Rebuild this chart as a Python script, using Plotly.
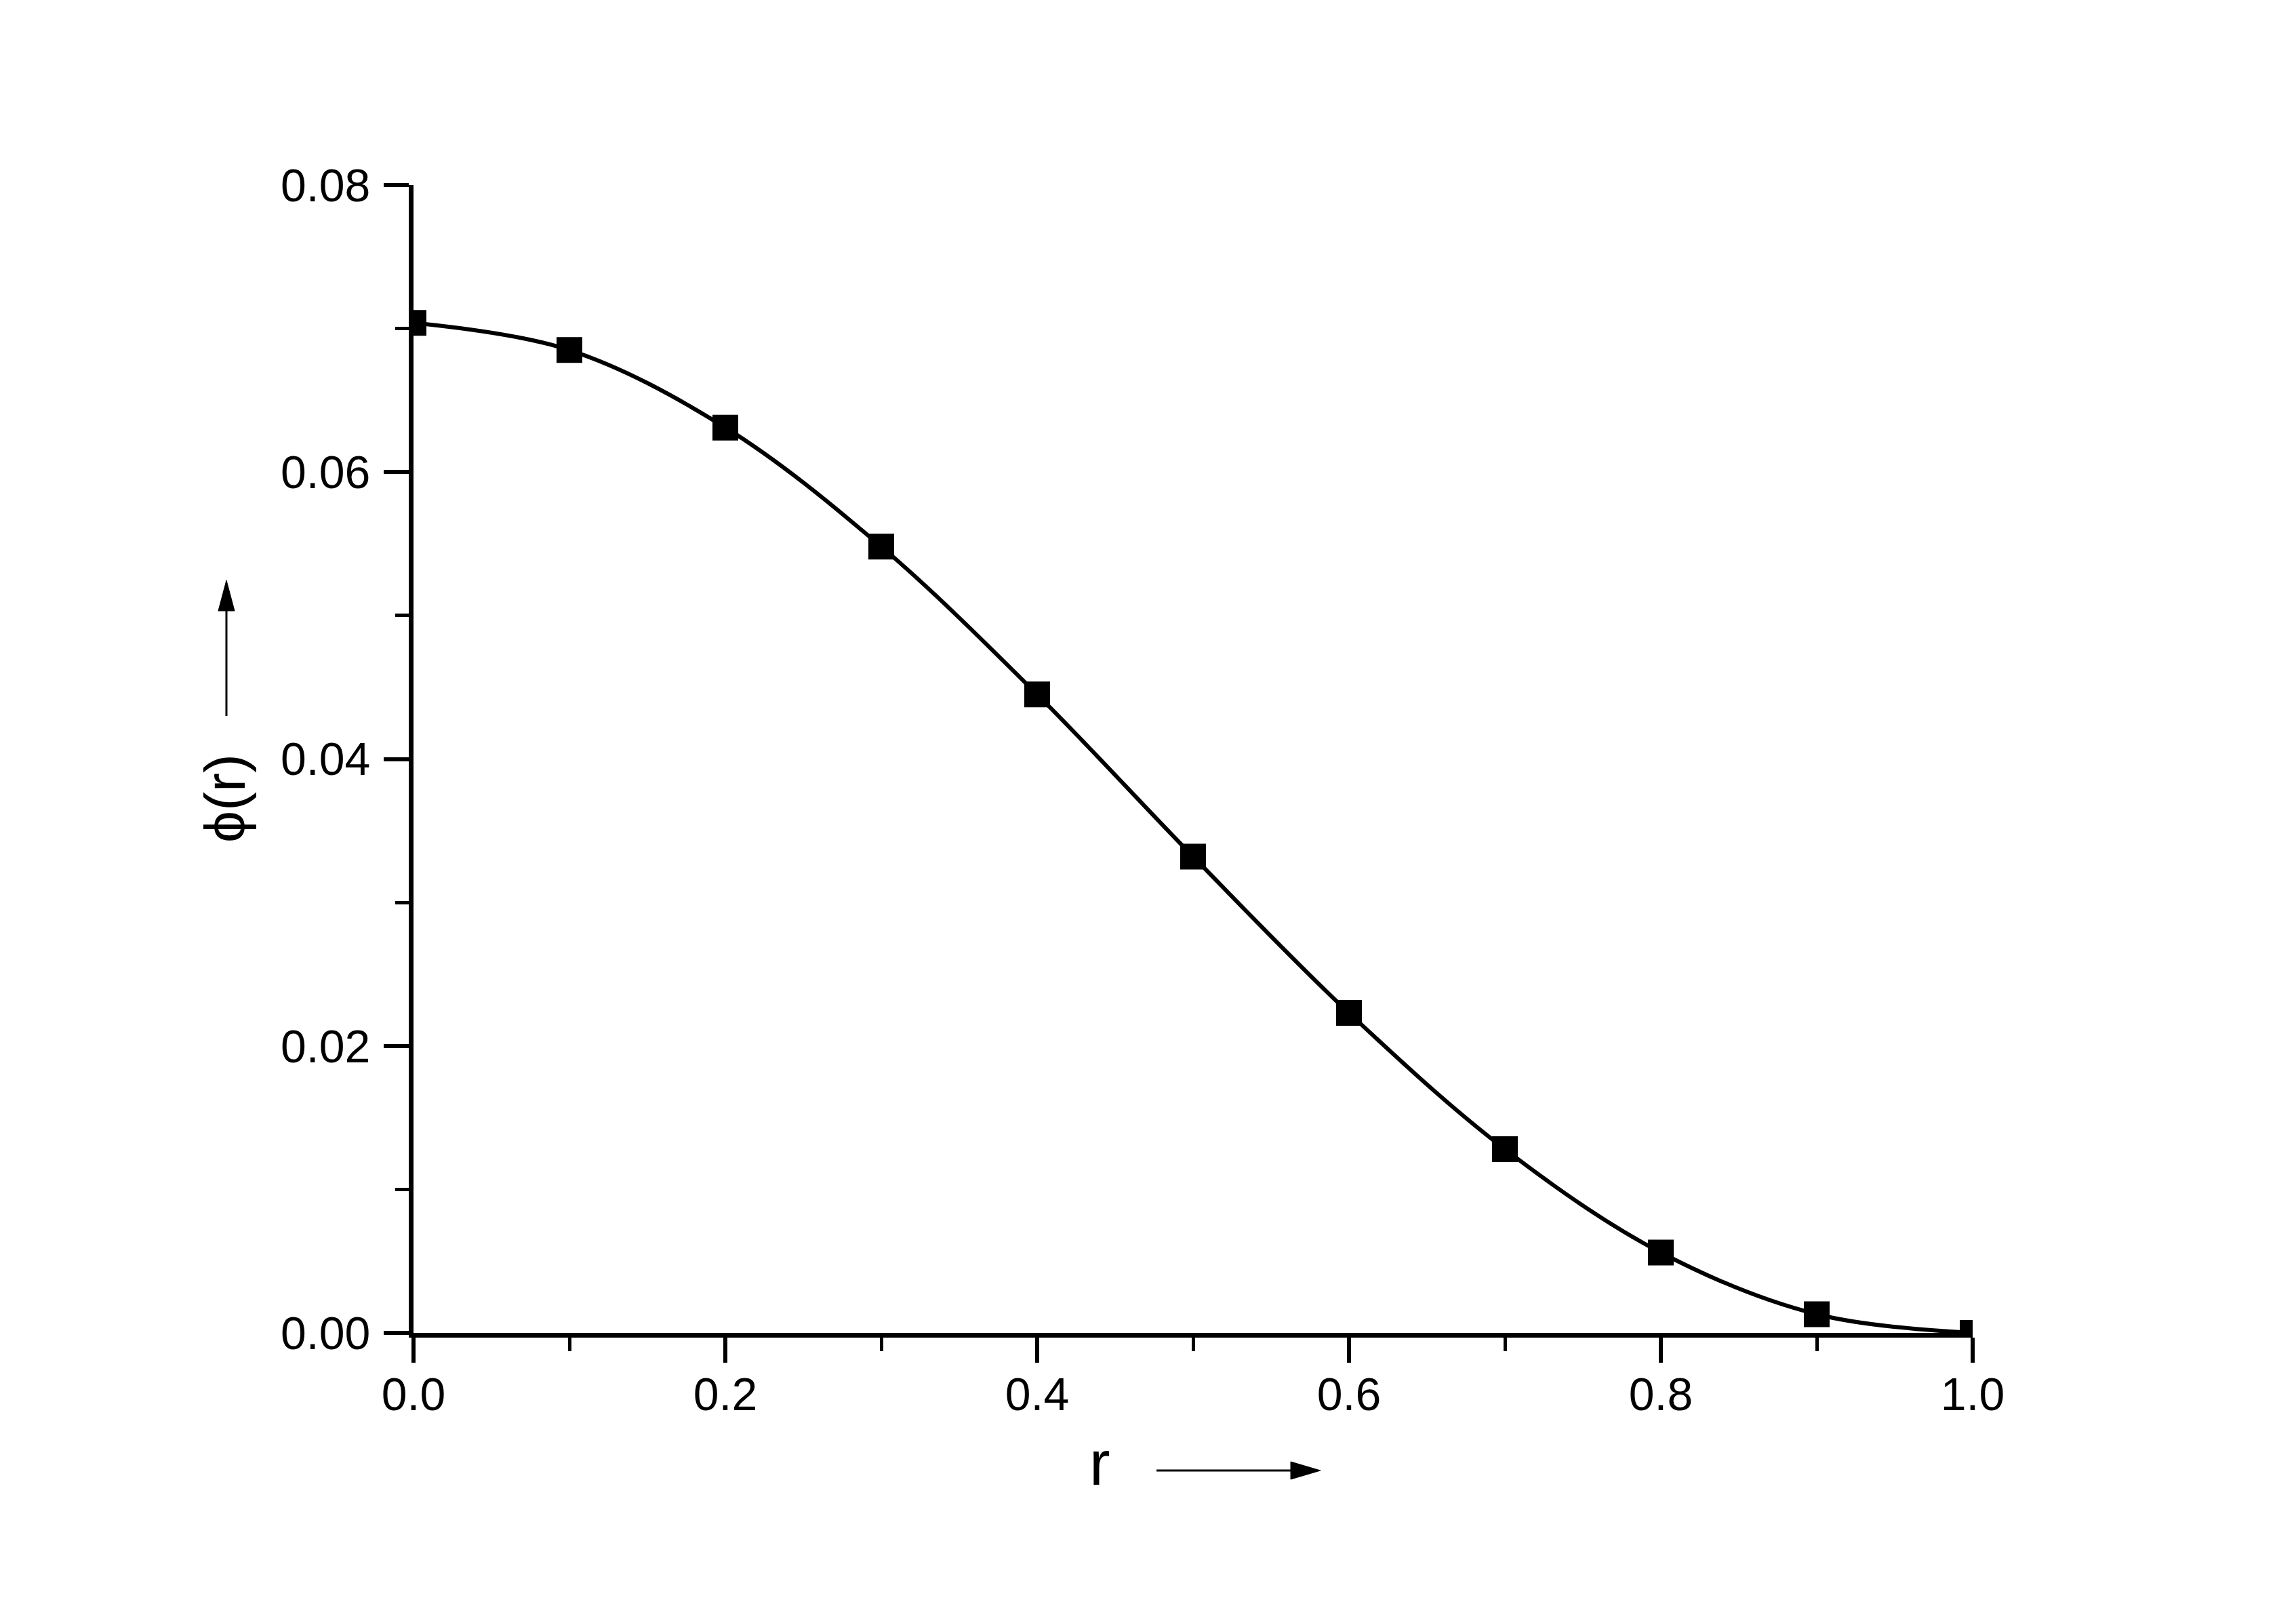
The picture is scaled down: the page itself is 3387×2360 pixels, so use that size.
import plotly.graph_objects as go

# Data
r_values = [0.0, 0.1, 0.2, 0.3, 0.4, 0.5, 0.6, 0.7, 0.8, 0.9, 1.0]
phi_values = [0.0704, 0.0685, 0.0631, 0.0548, 0.0445, 0.0332, 0.0223, 0.0128, 0.0056, 0.0013, 0.0000]

x_tick_vals = [0.0, 0.2, 0.4, 0.6, 0.8, 1.0]
x_tick_text = ["0.0", "0.2", "0.4", "0.6", "0.8", "1.0"]
y_tick_vals = [0.00, 0.02, 0.04, 0.06, 0.08]
y_tick_text = ["0.00", "0.02", "0.04", "0.06", "0.08"]

W, H = 3387, 2360
OFF_X, OFF_Y = 4, 10       # page offset
L, T = 606, 275            # on-screen plot-area left/top
PW, PH = 2300, 1693        # plot-area size

def px(xp):
    return (xp - L - 4) / PW

def py(yp):
    return (T + PH - yp) / PH

FONT = "Liberation Sans, Arial, sans-serif"

fig = go.Figure()
fig.add_trace(go.Scatter(
    x=r_values, y=phi_values,
    mode="lines+markers",
    line=dict(color="black", width=6, shape="spline", smoothing=1.0),
    marker=dict(symbol="square", size=38, color="black", line=dict(width=0)),
    cliponaxis=True,
    showlegend=False,
))

axis_common = dict(
    showline=True, linecolor="black", linewidth=7,
    ticks="outside", ticklen=37, tickwidth=6, tickcolor="black",
    showgrid=False, zeroline=False, mirror=False,
    tickfont=dict(family=FONT, size=68, color="black"),
)

fig.update_xaxes(
    range=[0, 1], tickvals=x_tick_vals, ticktext=x_tick_text,
    ticklabelstandoff=-12,
    minor=dict(ticks="outside", ticklen=20, tickwidth=5, tickcolor="black", dtick=0.1, tick0=0, showgrid=False),
    **axis_common,
)
fig.update_yaxes(
    range=[0, 0.08], tickvals=y_tick_vals, ticktext=y_tick_text,
    ticklabelstandoff=6,
    minor=dict(ticks="outside", ticklen=20, tickwidth=5, tickcolor="black", dtick=0.01, tick0=0, showgrid=False),
    **axis_common,
)

annotations = [
    dict(text="r", x=px(1622), y=py(2160), xref="paper", yref="paper",
         showarrow=False, xanchor="center", yanchor="middle",
         font=dict(family=FONT, size=92, color="black")),
    dict(text="\u03d5(r)", x=px(332), y=py(1180), xref="paper", yref="paper",
         showarrow=False, xanchor="center", yanchor="middle", textangle=-90,
         font=dict(family=FONT, size=84, color="black")),
]

shapes = []
# x arrow
shapes.append(dict(type="line", xref="paper", yref="paper",
                   x0=px(1706), y0=py(2171), x1=px(1910), y1=py(2171),
                   line=dict(color="black", width=3)))
shapes.append(dict(type="path", xref="paper", yref="paper",
                   path=f"M {px(1904)},{py(2158)} L {px(1948)},{py(2171)} L {px(1904)},{py(2184)} Z",
                   fillcolor="black", line=dict(color="black", width=1)))
# y arrow
shapes.append(dict(type="line", xref="paper", yref="paper",
                   x0=px(334), y0=py(1058), x1=px(334), y1=py(900),
                   line=dict(color="black", width=3)))
shapes.append(dict(type="path", xref="paper", yref="paper",
                   path=f"M {px(322)},{py(903)} L {px(334)},{py(858)} L {px(346)},{py(903)} Z",
                   fillcolor="black", line=dict(color="black", width=1)))

fig.update_layout(
    width=W, height=H,
    margin=dict(l=L - OFF_X, r=W - L - PW + OFF_X, t=T - OFF_Y, b=H - T - PH + OFF_Y, autoexpand=False),
    paper_bgcolor="white", plot_bgcolor="white",
    annotations=annotations, shapes=shapes,
    showlegend=False,
)

fig.write_html("out.html")
